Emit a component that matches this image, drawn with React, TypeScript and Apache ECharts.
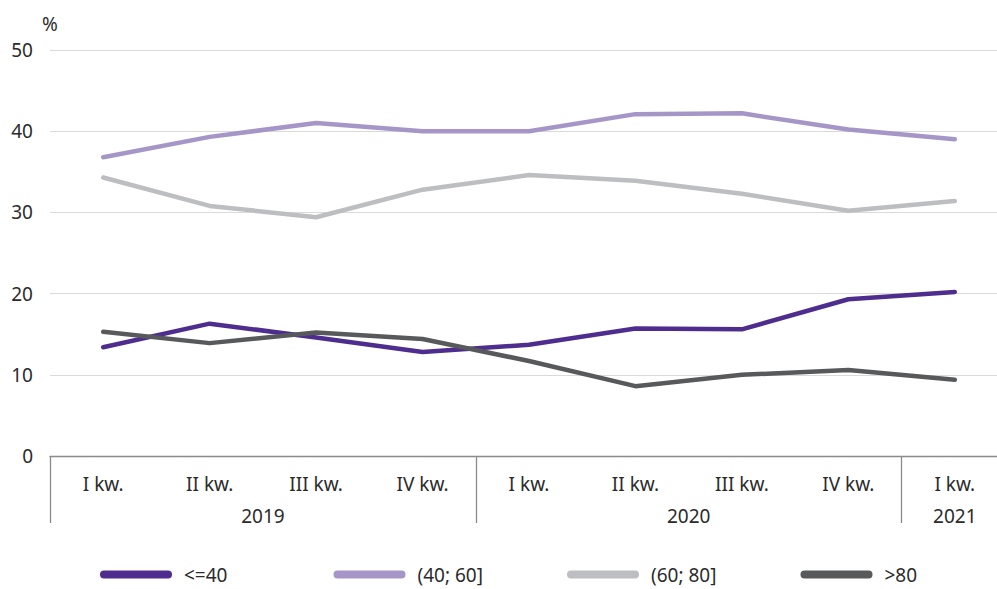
import React, { useEffect, useRef } from "react";
import * as echarts from "echarts";

const quarters = ["I kw.", "II kw.", "III kw.", "IV kw.", "I kw.", "II kw.", "III kw.", "IV kw.", "I kw."];
const years = ["2019", "2020", "2021"];
const quartersPerYear = [4, 4, 1];
const yTicks = [0, 10, 20, 30, 40, 50];

const seriesNames = ["<=40", "(40; 60]", "(60; 80]", ">80"];
const s1 = [13.4, 16.3, 14.6, 12.8, 13.7, 15.7, 15.6, 19.3, 20.2];
const s2 = [36.8, 39.3, 41.0, 40.0, 40.0, 42.1, 42.2, 40.2, 39.0];
const s3 = [34.3, 30.8, 29.4, 32.8, 34.6, 33.9, 32.3, 30.2, 31.4];
const s4 = [15.3, 13.9, 15.2, 14.4, 11.7, 8.6, 10.0, 10.6, 9.4];
const colors = ["#4e2d8e", "#a696c8", "#bdbec1", "#58595b"];

export default function App() {
  const ref = useRef<HTMLDivElement>(null);
  useEffect(() => {
    document.body.style.margin = "0";
    const chart = echarts.init(ref.current!, null, { renderer: "svg" });
    const font = "Noto Sans";
    const bounds: number[] = [0];
    const centers: Record<string, string> = {};
    let acc = 0;
    quartersPerYear.forEach((n, i) => {
      centers[String(acc + n / 2)] = years[i];
      acc += n;
      bounds.push(acc);
    });
    const data = [s1, s2, s3, s4];
    const txt = { fontSize: 19, color: "#2b2b2b", fontFamily: font };
    chart.setOption({
      animation: false,
      grid: { left: 50, top: 50, height: 406, width: 958, outerBoundsMode: "none", containLabel: false },
      xAxis: [
        {
          type: "category",
          data: quarters,
          boundaryGap: true,
          axisLine: { show: true, lineStyle: { color: "#8a8a8a", width: 1.3 } },
          axisTick: {
            show: true,
            interval: (i: number) => bounds.indexOf(i) >= 0,
            length: 67,
            lineStyle: { color: "#8a8a8a", width: 1.3 },
          },
          axisLabel: { ...txt, margin: 18, interval: 0 },
        },
        {
          type: "value",
          position: "bottom",
          min: 0,
          max: quarters.length,
          interval: 0.5,
          axisLine: { show: false },
          axisTick: { show: false },
          splitLine: { show: false },
          axisLabel: {
            ...txt,
            margin: 50,
            showMinLabel: true,
            showMaxLabel: true,
            formatter: (v: number) => centers[String(v)] || "",
          },
        },
      ],
      yAxis: {
        type: "value",
        min: 0,
        max: 50,
        interval: 10,
        name: "%",
        nameGap: 17,
        nameTextStyle: { ...txt, align: "center" },
        axisLine: { show: false },
        axisTick: { show: false },
        splitLine: { lineStyle: { color: "#dadada", width: 1 } },
        axisLabel: {
          ...txt,
          margin: 17,
          formatter: (v: number) => (yTicks.indexOf(v) >= 0 ? String(v) : ""),
        },
      },
      legend: seriesNames.map((name, i) => ({
        left: 100 + i * 233.5,
        top: 565,
        padding: 0,
        itemWidth: 72,
        itemHeight: 8,
        icon: "path://M4,0 L68,0 A4,4 0 0 1 68,8 L4,8 A4,4 0 0 1 4,0 Z",
        formatter: "{t|{name}}",
        textStyle: {
          ...txt,
          rich: { t: { ...txt, padding: [0, 0, 0, 7] } },
        },
        data: [name],
      })),
      series: seriesNames.map((name, i) => ({
        name,
        type: "line",
        data: data[i],
        showSymbol: false,
        symbol: "none",
        color: colors[i],
        lineStyle: { width: 4.5, color: colors[i], cap: "round", join: "round" },
        z: 2 + i,
      })),
    });
    return () => chart.dispose();
  }, []);
  return <div ref={ref} style={{ width: 997, height: 589 }} />;
}
